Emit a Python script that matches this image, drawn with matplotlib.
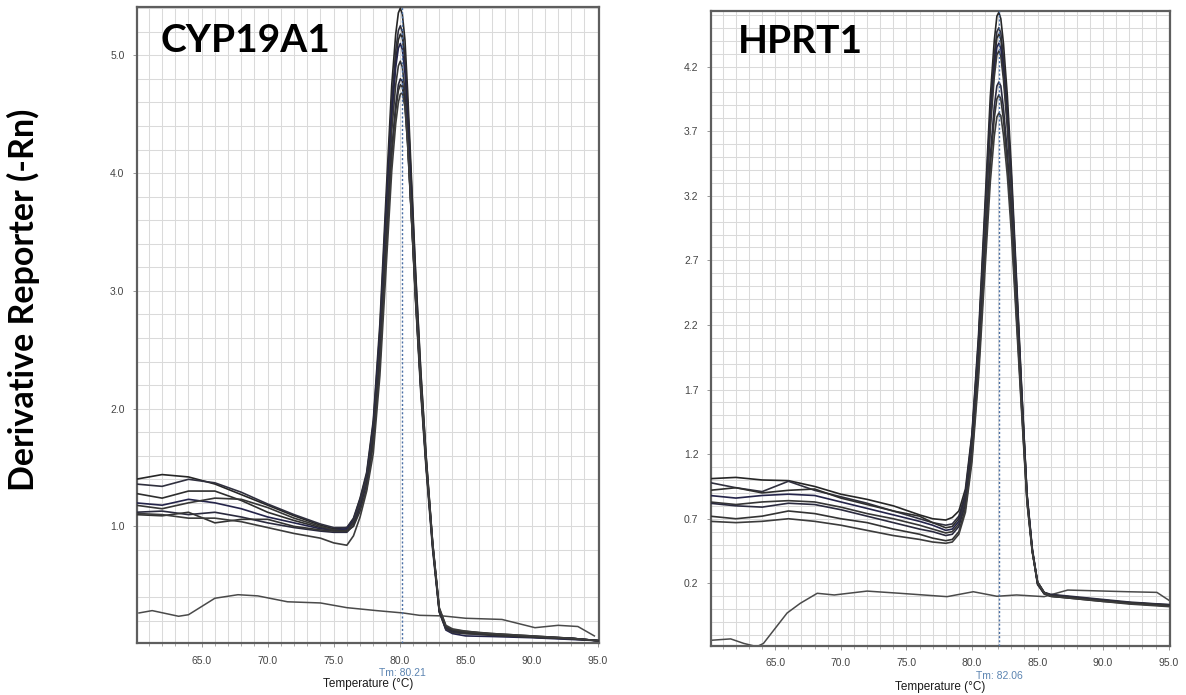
import matplotlib
matplotlib.use("Agg")
import matplotlib.pyplot as plt
import matplotlib.transforms as mtransforms
import numpy as np

# ---------------- data: CYP19A1 ----------------
cyp_temp = [60, 62, 64, 66, 68, 70, 72, 74, 75, 76, 76.5, 77, 77.5, 78, 78.5, 79, 79.4, 79.7,
            79.9, 80.05, 80.2, 80.4, 80.6, 80.9, 81.2, 81.6, 82, 82.5, 83, 83.5, 84, 85, 87, 90, 93, 95]
cyp_s1 = [1.40, 1.44, 1.42, 1.36, 1.27, 1.18, 1.09, 1.01, 0.98, 0.99, 1.07, 1.24, 1.46, 1.90, 2.72, 3.88, 4.75, 5.18,
          5.36, 5.40, 5.35, 5.13, 4.70, 3.94, 3.18, 2.32, 1.60, 0.85, 0.28, 0.14, 0.11, 0.10, 0.09, 0.07, 0.05, 0.03]
cyp_s2 = [1.36, 1.34, 1.40, 1.37, 1.29, 1.19, 1.10, 1.02, 0.99, 0.99, 1.06, 1.23, 1.44, 1.87, 2.66, 3.78, 4.62, 5.04,
          5.21, 5.25, 5.20, 4.99, 4.57, 3.83, 3.10, 2.26, 1.57, 0.84, 0.28, 0.13, 0.10, 0.09, 0.08, 0.065, 0.05, 0.03]
cyp_s3 = [1.28, 1.24, 1.30, 1.30, 1.22, 1.12, 1.05, 0.99, 0.97, 0.97, 1.03, 1.19, 1.40, 1.80, 2.55, 3.65, 4.50, 4.95,
          5.13, 5.18, 5.15, 4.96, 4.58, 3.88, 3.15, 2.30, 1.60, 0.86, 0.30, 0.15, 0.12, 0.11, 0.085, 0.06, 0.045, 0.03]
cyp_s4 = [1.20, 1.18, 1.23, 1.20, 1.15, 1.08, 1.03, 0.98, 0.97, 0.98, 1.05, 1.21, 1.42, 1.84, 2.60, 3.67, 4.49, 4.90,
          5.06, 5.10, 5.05, 4.85, 4.44, 3.72, 3.01, 2.19, 1.53, 0.82, 0.28, 0.12, 0.09, 0.07, 0.065, 0.055, 0.04, 0.03]
cyp_s5 = [1.18, 1.15, 1.20, 1.24, 1.23, 1.16, 1.07, 1.00, 0.97, 0.96, 1.04, 1.20, 1.41, 1.80, 2.52, 3.56, 4.36, 4.75,
          4.91, 4.95, 4.90, 4.70, 4.31, 3.61, 2.92, 2.13, 1.49, 0.80, 0.27, 0.13, 0.10, 0.09, 0.075, 0.06, 0.05, 0.03]
cyp_s6 = [1.12, 1.13, 1.10, 1.12, 1.08, 1.03, 0.99, 0.96, 0.95, 0.95, 1.01, 1.16, 1.36, 1.74, 2.42, 3.42, 4.20, 4.58,
          4.75, 4.80, 4.78, 4.62, 4.28, 3.62, 2.95, 2.17, 1.52, 0.83, 0.29, 0.14, 0.11, 0.10, 0.08, 0.065, 0.05, 0.03]
cyp_s7 = [1.10, 1.09, 1.12, 1.03, 1.06, 1.06, 1.00, 0.97, 0.96, 0.96, 1.00, 1.13, 1.32, 1.70, 2.38, 3.38, 4.15, 4.53,
          4.70, 4.75, 4.73, 4.58, 4.25, 3.60, 2.94, 2.17, 1.53, 0.84, 0.30, 0.15, 0.12, 0.10, 0.08, 0.06, 0.045, 0.03]
cyp_s8 = [1.11, 1.10, 1.07, 1.07, 1.04, 0.99, 0.94, 0.90, 0.86, 0.84, 0.92, 1.08, 1.30, 1.62, 2.28, 3.25, 4.02, 4.42,
          4.60, 4.67, 4.68, 4.56, 4.25, 3.62, 2.97, 2.20, 1.56, 0.86, 0.31, 0.16, 0.13, 0.11, 0.09, 0.07, 0.05, 0.03]
cyp_ntc_temp = [60.25, 61.25, 63.25, 64.0, 66.0, 67.75, 69.25, 71.5, 74.0, 76.0, 78.25, 80.25, 81.5, 83.25,
                85.0, 87.75, 90.25, 92.0, 93.5, 94.75]
cyp_ntc = [0.265, 0.285, 0.237, 0.25, 0.39, 0.42, 0.41, 0.36, 0.35, 0.31, 0.285, 0.265, 0.245, 0.24,
           0.22, 0.21, 0.14, 0.16, 0.15, 0.07]
cyp_tm = 80.21

# ---------------- data: HPRT1 ----------------
hp_temp = [60, 62, 64, 66, 68, 70, 72, 74, 76, 77, 78, 78.5, 79, 79.5, 80, 80.5, 81, 81.4, 81.7, 81.9, 82.05,
           82.2, 82.4, 82.7, 83, 83.4, 83.8, 84.2, 84.6, 85, 85.5, 86, 88, 90, 92, 95]
hp_s1 = [1.01, 1.02, 1.00, 0.995, 0.95, 0.89, 0.85, 0.80, 0.73, 0.70, 0.69, 0.71, 0.76, 0.93, 1.36, 2.12, 3.15, 3.97,
         4.40, 4.59, 4.62, 4.57, 4.38, 3.97, 3.42, 2.55, 1.68, 0.88, 0.45, 0.19, 0.12, 0.11, 0.09, 0.07, 0.05, 0.03]
hp_s2 = [0.98, 0.94, 0.91, 0.99, 0.92, 0.87, 0.82, 0.76, 0.70, 0.67, 0.65, 0.66, 0.72, 0.90, 1.34, 2.08, 3.08, 3.87,
         4.29, 4.47, 4.50, 4.46, 4.27, 3.87, 3.35, 2.51, 1.67, 0.89, 0.47, 0.21, 0.13, 0.115, 0.095, 0.075, 0.055, 0.035]
hp_s3 = [0.92, 0.94, 0.90, 0.92, 0.93, 0.86, 0.81, 0.76, 0.72, 0.67, 0.63, 0.64, 0.70, 0.88, 1.32, 2.05, 3.04, 3.83,
         4.24, 4.42, 4.45, 4.41, 4.22, 3.83, 3.31, 2.48, 1.65, 0.88, 0.46, 0.20, 0.12, 0.10, 0.085, 0.065, 0.045, 0.025]
hp_s4 = [0.88, 0.86, 0.88, 0.89, 0.88, 0.83, 0.78, 0.73, 0.68, 0.65, 0.61, 0.62, 0.68, 0.86, 1.30, 2.03, 3.00, 3.77,
         4.18, 4.35, 4.38, 4.34, 4.16, 3.77, 3.26, 2.45, 1.63, 0.87, 0.46, 0.20, 0.125, 0.105, 0.085, 0.065, 0.05, 0.03]
hp_s5 = [0.83, 0.81, 0.83, 0.84, 0.83, 0.79, 0.74, 0.70, 0.65, 0.62, 0.59, 0.60, 0.66, 0.84, 1.28, 2.00, 2.96, 3.72,
         4.12, 4.29, 4.32, 4.28, 4.10, 3.72, 3.22, 2.41, 1.61, 0.86, 0.45, 0.20, 0.12, 0.10, 0.08, 0.06, 0.045, 0.025]
hp_s6 = [0.82, 0.80, 0.79, 0.82, 0.81, 0.77, 0.72, 0.67, 0.62, 0.60, 0.57, 0.58, 0.64, 0.81, 1.22, 1.90, 2.80, 3.51,
         3.89, 4.05, 4.08, 4.05, 3.88, 3.53, 3.06, 2.30, 1.55, 0.84, 0.45, 0.21, 0.13, 0.11, 0.09, 0.07, 0.05, 0.035]
hp_s7 = [0.72, 0.70, 0.72, 0.76, 0.74, 0.70, 0.67, 0.62, 0.58, 0.55, 0.53, 0.54, 0.60, 0.78, 1.18, 1.85, 2.73, 3.43,
         3.80, 3.95, 3.98, 3.95, 3.79, 3.45, 3.00, 2.26, 1.53, 0.83, 0.45, 0.21, 0.13, 0.105, 0.085, 0.065, 0.05, 0.03]
hp_s8 = [0.68, 0.67, 0.68, 0.70, 0.68, 0.65, 0.61, 0.57, 0.54, 0.52, 0.51, 0.52, 0.58, 0.75, 1.14, 1.79, 2.64, 3.31,
         3.66, 3.81, 3.84, 3.82, 3.67, 3.35, 2.92, 2.21, 1.50, 0.82, 0.44, 0.21, 0.13, 0.10, 0.08, 0.06, 0.04, 0.02]
hp_ntc_temp = [60.2, 61.6, 62.6, 63.6, 64.1, 65.9, 66.9, 68.2, 69.5, 72.0, 74.5, 78.1, 80.1, 81.9, 83.4,
               85.5, 87.3, 91.9, 94.1, 95.0]
hp_ntc = [-0.24, -0.23, -0.265, -0.29, -0.265, -0.03, 0.045, 0.123, 0.11, 0.14, 0.123, 0.097, 0.135, 0.10, 0.11,
          0.097, 0.148, 0.135, 0.13, 0.07]
hp_tm = 82.06

cyp_yticks = [1.0, 2.0, 3.0, 4.0, 5.0]
hp_yticks = [0.2, 0.7, 1.2, 1.7, 2.2, 2.7, 3.2, 3.7, 4.2]
x_ticks = [65.0, 70.0, 75.0, 80.0, 85.0, 90.0, 95.0]

panels = [
    dict(title="CYP19A1", temp=cyp_temp, samples=[cyp_s1, cyp_s2, cyp_s3, cyp_s4, cyp_s5, cyp_s6, cyp_s7, cyp_s8],
         ntc_t=cyp_ntc_temp, ntc=cyp_ntc, tm=cyp_tm, yticks=cyp_yticks, ylim=(0.01, 5.41), ygrid=0.2,
         rect=[137 / 1186, 1 - 643 / 695, 462 / 1186, 636 / 695], title_xy=(245, 52)),
    dict(title="HPRT1", temp=hp_temp, samples=[hp_s1, hp_s2, hp_s3, hp_s4, hp_s5, hp_s6, hp_s7, hp_s8],
         ntc_t=hp_ntc_temp, ntc=hp_ntc, tm=hp_tm, yticks=hp_yticks, ylim=(-0.285, 4.63), ygrid=0.1,
         rect=[711 / 1186, 1 - 646 / 695, 459 / 1186, 635 / 695], title_xy=(800, 53)),
]

W, H = 1186, 695
fig = plt.figure(figsize=(W / 100, H / 100), dpi=100)
tick_font = "Liberation Sans"
line_colors = ["#262626", "#30303e", "#2e2e2e", "#24244a", "#363636", "#2a2a3e", "#333333", "#3c3c3c"]

for p in panels:
    ax = fig.add_axes(p["rect"])
    ax.set_xlim(60.1, 95.1)
    ax.set_ylim(*p["ylim"])
    # grid
    for gx in np.arange(61, 96, 1):
        ax.axvline(gx, color="#dadada", lw=0.75, zorder=0)
    y0 = np.ceil(p["ylim"][0] / p["ygrid"]) * p["ygrid"]
    for gy in np.arange(y0, p["ylim"][1], p["ygrid"]):
        ax.axhline(gy, color="#dadada", lw=0.75, zorder=0)
    # curves
    ax.plot(p["ntc_t"], p["ntc"], color="#4a4a4a", lw=1.1, zorder=2)
    for s, c in zip(p["samples"], line_colors):
        ax.plot(p["temp"], s, color=c, lw=1.2, zorder=3)
    # Tm line
    ax.axvline(p["tm"], color="#4a6fa5", lw=1.0, ls=(0, (1.5, 1.5)), zorder=4)
    trans = mtransforms.blended_transform_factory(ax.transData, ax.transAxes)
    ax.text(p["tm"], -0.047, f"Tm: {p['tm']:.2f}", transform=trans, ha="center", va="center",
            fontsize=7.5, color="#5b84b1", family=tick_font)
    ax.text(0.5, -0.065, "Temperature (°C)", transform=ax.transAxes, ha="center", va="center",
            fontsize=8.5, color="#1a1a1a", family=tick_font)
    # ticks
    ax.set_xticks(x_ticks)
    ax.set_xticklabels([f"{t:.1f}" for t in x_ticks])
    ax.set_yticks(p["yticks"])
    ax.set_yticklabels([f"{t:.1f}" for t in p["yticks"]])
    ax.set_xticks(np.arange(61, 96, 1), minor=True)
    ax.tick_params(axis="both", which="major", labelsize=7.5, labelcolor="#444444", color="#888888",
                   length=3, width=0.6, pad=6)
    ax.tick_params(axis="x", which="minor", color="#888888", length=2, width=0.5)
    for lab in ax.get_xticklabels() + ax.get_yticklabels():
        lab.set_family(tick_font)
    for sp in ax.spines.values():
        sp.set_color("#5e5e5e")
        sp.set_linewidth(1.6)
    fig.text(p["title_xy"][0] / W, 1 - p["title_xy"][1] / H, p["title"], ha="center", va="baseline",
             fontsize=28, fontweight="bold", family="Lato", color="black")

fig.text(23 / W, 1 - 300 / H, "Derivative Reporter (-Rn)", rotation=90, ha="center", va="center",
         fontsize=24.5, fontweight="bold", family="Lato", color="black")

fig.savefig("out.png", dpi=100)
